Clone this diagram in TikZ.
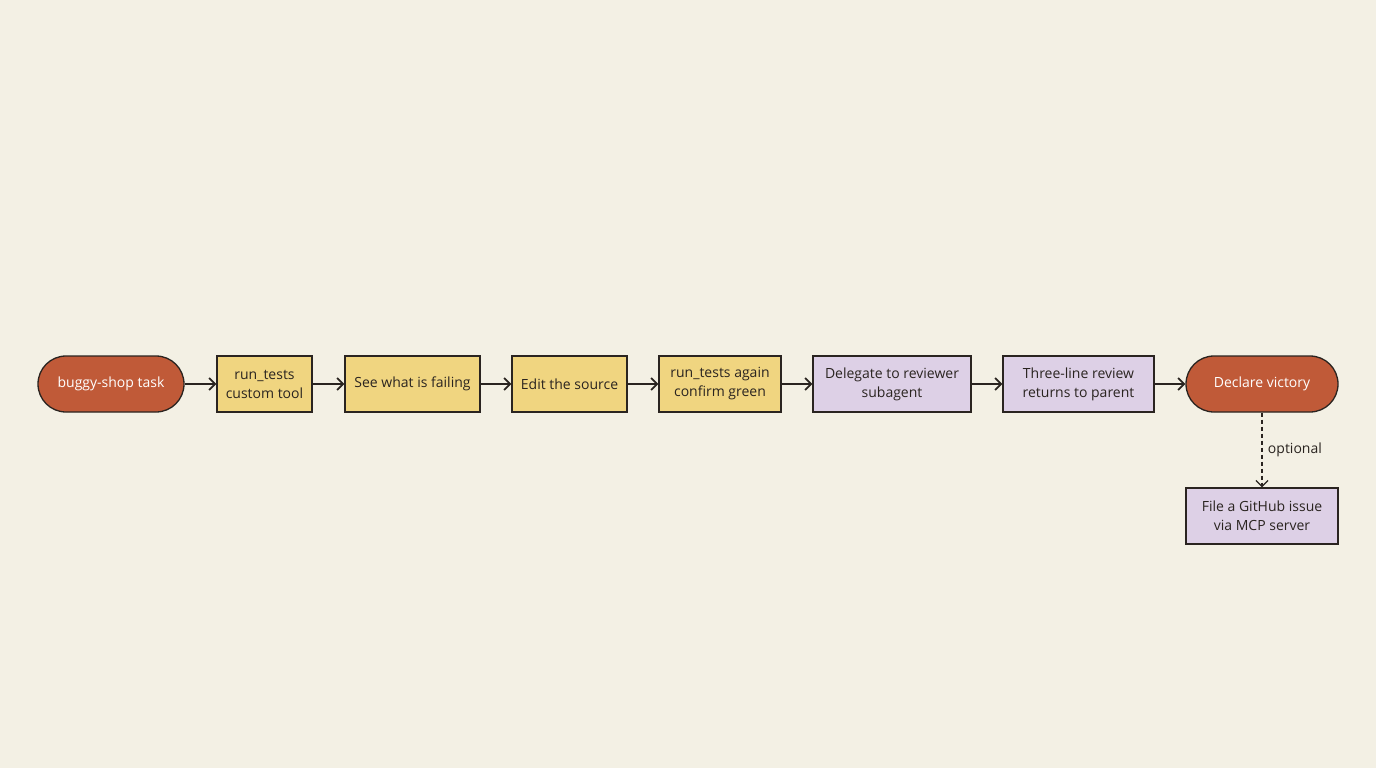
\documentclass[tikz,border=0pt]{standalone}
\usepackage{fontspec}
\setmainfont{Open Sans}
\usetikzlibrary{arrows.meta}
\definecolor{bg}{HTML}{F3F0E4}
\definecolor{term}{HTML}{C05A38}
\definecolor{yel}{HTML}{F0D580}
\definecolor{pur}{HTML}{DDD0E6}
\definecolor{ink}{HTML}{2A2420}
\tikzset{x=1pt,y=-1pt,
 base/.style={draw=ink,line width=1.3pt,minimum height=56pt,align=center,font=\fontsize{14}{19}\selectfont,inner sep=2pt,text=ink},
 term/.style={base,fill=term,rounded corners=28pt,text=white},
 ybox/.style={base,fill=yel},
 pbox/.style={base,fill=pur},
 arr/.style={draw=ink,line width=1.8pt,-{Straight Barb[length=6pt,width=12pt]}}}
\begin{document}
\begin{tikzpicture}
\fill[bg] (0,0) rectangle (1376,768);
\useasboundingbox (0,0) rectangle (1376,768);
\node[term,minimum width=146pt] (a) at (111,384) {buggy-shop task};
\node[ybox,minimum width=95pt] (b) at (264.5,384) {run\_tests\\custom tool};
\node[ybox,minimum width=135pt] (c) at (412.5,384) {See what is failing};
\node[ybox,minimum width=115pt] (d) at (569.5,384) {Edit the source};
\node[ybox,minimum width=122pt] (e) at (720,384) {run\_tests again\\confirm green};
\node[pbox,minimum width=158pt] (f) at (892,384) {Delegate to reviewer\\subagent};
\node[pbox,minimum width=151pt] (g) at (1078.5,384) {Three-line review\\returns to parent};
\node[term,minimum width=152pt] (h) at (1262,384) {Declare victory};
\node[pbox,minimum width=152pt] (i) at (1262,516) {File a GitHub issue\\via MCP server};
\draw[arr] (a) -- (b);
\draw[arr] (b) -- (c);
\draw[arr] (c) -- (d);
\draw[arr] (d) -- (e);
\draw[arr] (e) -- (f);
\draw[arr] (f) -- (g);
\draw[arr] (g) -- (h);
\draw[arr,line width=1.3pt,dash pattern=on 4pt off 3pt] (h) -- node[right,xshift=2pt,font=\fontsize{14}{18}\selectfont,text=ink] {optional} (i);
\end{tikzpicture}
\end{document}
